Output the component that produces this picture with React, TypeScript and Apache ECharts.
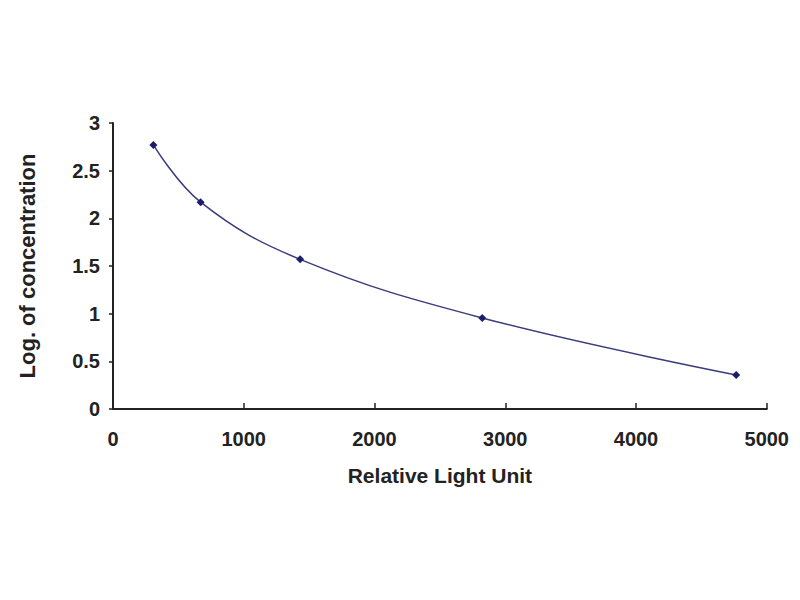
import React, { useEffect, useRef } from "react";
import * as echarts from "echarts";

const xValues = [309, 670, 1431, 2824, 4766];
const yValues = [2.77, 2.17, 1.57, 0.955, 0.357];
const xTitle = "Relative Light Unit";
const yTitle = "Log. of concentration";

export default function App() {
  const ref = useRef<HTMLDivElement>(null);
  useEffect(() => {
    if (!ref.current) return;
    const chart = echarts.init(ref.current, null, { renderer: "svg" });
    const font = "'Liberation Sans', Arial, sans-serif";
    chart.setOption({
      animation: false,
      backgroundColor: "#ffffff",
      grid: { left: 104, right: 16, top: 115, bottom: 183, containLabel: false },
      xAxis: {
        type: "value",
        min: 0,
        max: 5000,
        interval: 1000,
        name: xTitle,
        nameLocation: "middle",
        nameGap: 56,
        nameTextStyle: { fontFamily: font, fontSize: 21, fontWeight: "bold", color: "#222" },
        axisLine: { onZero: false, lineStyle: { color: "#222", width: 2 } },
        axisTick: { inside: true, length: 6, lineStyle: { color: "#222", width: 1.5 } },
        axisLabel: {
          fontFamily: font,
          fontSize: 20,
          fontWeight: "bold",
          color: "#222",
          margin: 20,
          formatter: (v: number) => String(v),
        },
        splitLine: { show: false },
      },
      yAxis: {
        type: "value",
        min: 0,
        max: 3,
        interval: 0.5,
        name: yTitle,
        nameLocation: "middle",
        nameRotate: 90,
        nameGap: 75,
        nameTextStyle: { fontFamily: font, fontSize: 22, fontWeight: "bold", color: "#222" },
        axisLine: { show: true, onZero: false, lineStyle: { color: "#222", width: 2 } },
        axisTick: { show: true, inside: false, length: 4, lineStyle: { color: "#222", width: 1.5 } },
        axisLabel: {
          fontFamily: font,
          fontSize: 20,
          fontWeight: "bold",
          color: "#222",
          margin: 13,
          formatter: (v: number) => String(v),
        },
        splitLine: { show: false },
      },
      series: [
        {
          type: "line",
          smooth: 0.4,
          data: xValues.map((x, i) => [x, yValues[i]]),
          symbol: "diamond",
          symbolSize: 8,
          itemStyle: { color: "#1c1c6a" },
          lineStyle: { color: "#3b3b7e", width: 1.5 },
        },
      ],
    });
    return () => chart.dispose();
  }, []);
  return <div ref={ref} style={{ width: 784, height: 584 }} />;
}
